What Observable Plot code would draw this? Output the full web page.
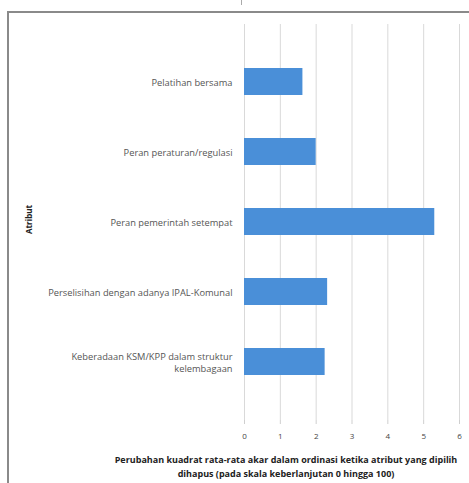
<!DOCTYPE html>
<html>
<head>
<meta charset="utf-8">
<script src="https://cdn.jsdelivr.net/npm/d3@7"></script>
<script src="https://cdn.jsdelivr.net/npm/@observablehq/plot@0.6"></script>
<style>
  html, body { margin: 0; padding: 0; background: #fff; }
  #wrap { position: relative; width: 469px; height: 483px; overflow: hidden; }
  #frame { position: absolute; left: 7px; top: 11px; width: 480px; height: 500px;
           border-left: 2px solid #8a8a8a; border-top: 2px solid #8a8a8a; box-sizing: border-box; }
  #nub { position: absolute; left: 241px; top: 0px; width: 1px; height: 5px; background: #aaa; }
  #chart { position: absolute; left: 0; top: 0; }
</style>
</head>
<body>
<div id="wrap"><div id="frame"></div><div id="nub"></div><div id="chart"></div></div>
<script>
const categories = [
  "Pelatihan bersama",
  "Peran peraturan/regulasi",
  "Peran pemerintah setempat",
  "Perselisihan dengan adanya IPAL-Komunal",
  "Keberadaan KSM/KPP dalam struktur\nkelembagaan"
];
const values = [1.63, 2.0, 5.31, 2.32, 2.25];
const xTicks = [0, 1, 2, 3, 4, 5, 6];
const xTitle = "Perubahan kuadrat rata-rata akar dalam ordinasi ketika atribut yang dipilih\ndihapus (pada skala keberlanjutan 0 hingga 100)";
const yTitle = "Atribut";

const data = categories.map((c, i) => ({category: c, value: values[i]}));

const chart = Plot.plot({
  width: 469,
  height: 483,
  marginLeft: 244,
  marginRight: 10,
  marginTop: 24,
  marginBottom: 63,
  style: {fontFamily: "'Open Sans', sans-serif", background: "transparent", overflow: "visible"},
  x: {domain: [0, 6], ticks: xTicks},
  y: {domain: categories, padding: 0.61, align: 0.5},
  marks: [
    Plot.gridX(xTicks, {stroke: "#d9d9d9", strokeOpacity: 1, strokeWidth: 1}),
    Plot.barX(data, {x: "value", y: "category", fill: "#4a8fd8"}),
    Plot.ruleY([0], {frameAnchor: "bottom", stroke: "#d0d0d0"}),
    Plot.axisX({ticks: xTicks, tickFormat: d3.format("d"), tickSize: 4, tickPadding: 9, stroke: "#cfcfcf", color: "#444", fontSize: 8, label: null}),
    Plot.axisY({tickSize: 0, tickPadding: 12, fontSize: 9.3, color: "#555", label: null, lineHeight: 1.25}),
    Plot.text([xTitle], {frameAnchor: "bottom", dy: 45, dx: -66, lineAnchor: "middle", lineHeight: 1.6,
      fontSize: 9, fontWeight: "bold", fill: "#222", textAnchor: "middle"}),
    Plot.text([yTitle], {frameAnchor: "left", dx: -215, dy: -3, rotate: -90,
      fontSize: 8, fontWeight: "bold", fill: "#222", textAnchor: "middle"})
  ]
});
document.getElementById("chart").appendChild(chart);
</script>
</body>
</html>
